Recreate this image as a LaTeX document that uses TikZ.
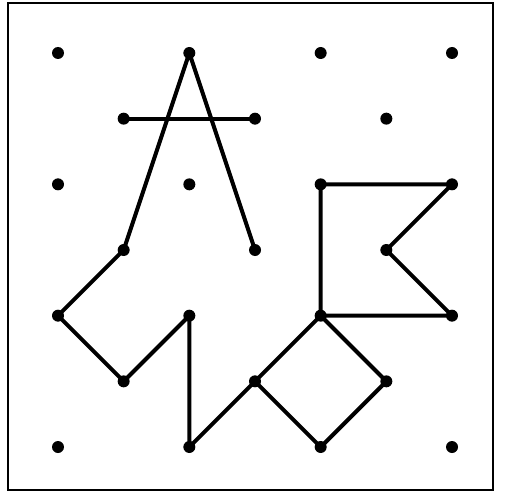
\documentclass[tikz,border=0pt]{standalone}
\begin{document}
\begin{tikzpicture}[x=1pt,y=-1pt,
  dot/.style={circle,fill=black,inner sep=0pt,minimum size=12pt},
  seg/.style={line width=4pt,line join=round,line cap=round}]
\useasboundingbox (0,0) rectangle (506,492);
\draw[line width=2pt] (8,3) rectangle (493,490);
\foreach \i in {0,...,6}{
  \foreach \j in {0,...,6}{
    \coordinate (p-\i-\j) at ({58+65.667*\i},{53+65.667*\j});
  }
}
\draw[seg] (p-1-3) -- (p-2-0) -- (p-3-3);
\draw[seg] (p-1-1) -- (p-3-1);
\draw[seg] (p-1-3) -- (p-0-4) -- (p-1-5) -- (p-2-4) -- (p-2-6) -- (p-3-5);
\draw[seg] (p-3-5) -- (p-4-4) -- (p-5-5) -- (p-4-6) -- cycle;
\draw[seg] (p-4-4) -- (p-4-2) -- (p-6-2) -- (p-5-3) -- (p-6-4) -- cycle;
\foreach \i in {0,...,6}{
  \foreach \j in {0,...,6}{
    \pgfmathtruncatemacro{\s}{mod(\i+\j,2)}
    \ifnum\s=0
      \node[dot] (d-\i-\j) at (p-\i-\j) {};
    \fi
  }
}
\end{tikzpicture}
\end{document}
